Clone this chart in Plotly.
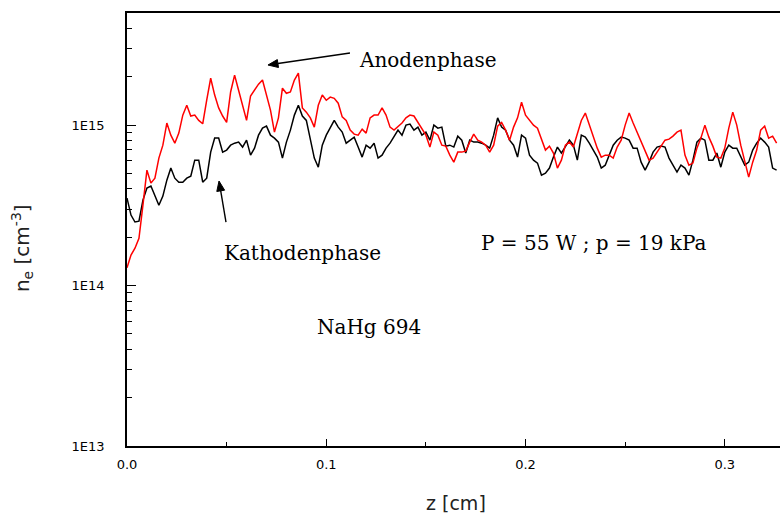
import plotly.graph_objects as go

# electron density in units of 1E14 cm^-3, sampled every 0.002 cm
z_step = 0.002

anode = [1.29, 1.55, 1.71, 1.97, 3.17, 5.24, 4.35, 4.67, 6.23, 7.5,
         10.3, 8.66, 7.72, 8.92, 11.55, 13.3, 11.4, 11.55, 10.7, 10.2,
         14.3, 19.6, 15.4, 12.8, 11.4, 10.4, 16.1, 20.5, 16.5, 13.3,
         10.7, 15.2, 16.5, 18.0, 19.1, 15.4, 12.4, 9.05, 11.1, 17.0,
         15.8, 16.1, 19.1, 21.1, 12.8, 12.05, 11.1, 9.72, 13.3, 15.4,
         14.3, 14.95, 14.7, 13.7, 11.25, 10.7, 9.31, 8.79, 8.66, 9.44,
         8.92, 11.1, 11.55, 11.55, 12.8, 11.55, 9.72, 9.31, 9.86, 10.3,
         11.1, 11.55, 11.4, 10.4, 9.31, 8.66, 7.30, 9.05, 8.66, 7.5,
         7.4, 6.5, 5.88, 6.79, 6.79, 6.89, 7.84, 8.79, 8.06, 7.84,
         7.5, 6.79, 7.5, 9.86, 10.4, 9.31, 8.06, 9.72, 11.1, 13.9,
         11.55, 10.7, 10.0, 9.58, 8.06, 6.99, 7.4, 6.7, 5.4, 6.05,
         7.5, 7.84, 7.3, 8.92, 10.7, 11.9, 10.0, 8.66, 7.19, 6.32,
         6.5, 6.5, 6.23, 7.3, 8.06, 10.0, 11.9, 10.3, 9.05, 7.84,
         6.99, 6.05, 6.23, 6.79, 7.5, 8.06, 8.18, 8.54, 9.05, 9.31,
         6.5, 5.63, 5.8, 7.19, 8.30, 10.0, 8.42, 7.4, 6.32, 6.23,
         7.19, 9.58, 12.05, 10.0, 7.5, 6.05, 4.74, 5.88, 6.99, 9.31,
         9.86, 8.30, 8.54, 7.72]

cathode = [3.51, 2.75, 2.49, 2.52, 3.41, 4.05, 4.17, 3.66, 3.17, 3.61,
           4.54, 5.40, 4.67, 4.41, 4.41, 4.67, 4.81, 6.05, 6.05, 4.41,
           4.67, 6.79, 8.30, 8.30, 6.79, 6.99, 7.5, 7.72, 7.84, 7.3,
           8.06, 6.5, 7.19, 8.66, 9.58, 9.86, 8.66, 8.30, 7.84, 6.23,
           7.84, 9.31, 11.55, 13.3, 11.4, 10.7, 8.06, 6.23, 5.47, 7.5,
           8.66, 9.58, 10.7, 9.72, 9.05, 7.72, 8.06, 8.42, 7.3, 6.32,
           7.5, 7.19, 7.72, 6.23, 6.5, 7.19, 7.72, 8.54, 9.31, 8.66,
           10.0, 10.15, 9.31, 9.72, 8.66, 9.05, 8.06, 10.0, 9.58, 9.72,
           7.4, 7.5, 7.3, 8.54, 8.06, 6.7, 8.06, 7.84, 7.84, 7.72,
           7.5, 7.19, 8.66, 11.1, 9.72, 9.31, 8.06, 7.5, 6.32, 8.66,
           8.30, 6.5, 6.05, 5.8, 4.88, 5.02, 5.40, 6.32, 7.3, 6.7,
           7.3, 8.06, 7.5, 6.05, 8.66, 8.42, 7.72, 6.99, 6.32, 5.40,
           5.63, 6.5, 7.5, 8.06, 8.42, 8.30, 8.06, 7.19, 7.19, 5.88,
           5.24, 5.88, 6.79, 7.3, 7.4, 7.3, 6.23, 5.63, 5.10, 5.63,
           5.40, 4.88, 6.05, 7.84, 8.30, 8.06, 6.05, 6.05, 6.7, 5.47,
           6.79, 7.5, 7.19, 7.19, 6.32, 5.63, 5.88, 6.99, 7.72, 8.30,
           7.84, 7.3, 5.40, 5.24]

unit = 1e14
x_tickvals = [0.0, 0.1, 0.2, 0.3]
x_ticktext = ["0.0", "0.1", "0.2", "0.3"]
x_minor = [0.05, 0.15, 0.25]
y_tickvals = [1e13, 1e14, 1e15]
y_ticktext = ["1E13", "1E14", "1E15"]
y_minor = [m * d for d in (1e13, 1e14, 1e15) for m in range(2, 10)]

z_anode = [i * z_step for i in range(len(anode))]
z_cathode = [i * z_step for i in range(len(cathode))]

fig = go.Figure()
fig.add_trace(go.Scatter(x=z_cathode, y=[v * unit for v in cathode], mode="lines",
                         line=dict(color="#000000", width=1.5), name="Kathodenphase"))
fig.add_trace(go.Scatter(x=z_anode, y=[v * unit for v in anode], mode="lines",
                         line=dict(color="#ff0000", width=1.5), name="Anodenphase"))

sans = "DejaVu Sans, Verdana, sans-serif"
tickfont = dict(family=sans, size=13, color="#000")
serif = dict(family="DejaVu Serif, serif", size=20, color="#000")

fig.update_layout(
    width=780, height=516,
    margin=dict(l=127, r=0, t=13, b=70),
    paper_bgcolor="white", plot_bgcolor="white",
    showlegend=False,
    xaxis=dict(range=[0, 0.3277], tickmode="array", tickvals=x_tickvals, ticktext=x_ticktext,
               ticks="inside", ticklen=7, tickwidth=1, tickcolor="#000",
               minor=dict(tickmode="array", tickvals=x_minor, ticks="inside", ticklen=4, tickcolor="#000"),
               showline=True, linecolor="#000", linewidth=1.6, mirror=True,
               showgrid=False, zeroline=False, tickfont=tickfont, ticklabelstandoff=6,
               automargin=False),
    yaxis=dict(type="log", range=[13, 15.699], tickmode="array", tickvals=y_tickvals, ticktext=y_ticktext,
               ticks="inside", ticklen=9, tickwidth=1, tickcolor="#000",
               minor=dict(tickmode="array", tickvals=y_minor, ticks="inside", ticklen=5, tickcolor="#000"),
               showline=True, linecolor="#000", linewidth=1.6,
               showgrid=False, zeroline=False, tickfont=tickfont, ticklabelstandoff=18,
               automargin=False),
)

# axis titles
fig.add_annotation(xref="paper", yref="paper", x=0.5038, y=-0.1316, text="z [cm]", showarrow=False,
                   xanchor="center", yanchor="middle", font=dict(family=sans, size=19, color="#222"))
fig.add_annotation(xref="paper", yref="paper", x=-0.1608, y=0.457, text="n<sub>e</sub> [cm<sup>-3</sup>]",
                   showarrow=False, textangle=-90, xanchor="center", yanchor="middle",
                   font=dict(family=sans, size=20, color="#222"))

annotations = [
    dict(text="Anodenphase", x=0.1154, y=15.406),
    dict(text="Kathodenphase", x=0.0477, y=14.204),
    dict(text="P = 55 W ; p = 19 kPa", x=0.1766, y=14.266),
    dict(text="NaHg 694", x=0.0943, y=13.743),
]
for a in annotations:
    fig.add_annotation(xref="x", yref="y", showarrow=False, font=serif,
                       xanchor="left", yanchor="middle", **a)

# arrows (paper coordinates): shaft + filled head
arrows = [
    dict(tail=(0.3415, 0.9076), base=(0.2311, 0.8834), head=[(0.2159, 0.8799), (0.2302, 0.8924), (0.2320, 0.8741)]),
    dict(tail=(0.1516, 0.5173), base=(0.1435, 0.5891), head=[(0.1409, 0.6120), (0.1495, 0.5908), (0.1375, 0.5878)]),
]
for ar in arrows:
    fig.add_shape(type="line", xref="paper", yref="paper",
                  x0=ar["tail"][0], y0=ar["tail"][1], x1=ar["base"][0], y1=ar["base"][1],
                  line=dict(color="#000", width=1.4))
    p = ar["head"]
    fig.add_shape(type="path", xref="paper", yref="paper",
                  path=f"M {p[0][0]},{p[0][1]} L {p[1][0]},{p[1][1]} L {p[2][0]},{p[2][1]} Z",
                  fillcolor="#000", line=dict(color="#000", width=1))

# remove the default page margin so the figure fills the window exactly
fig.write_html("out.html", config={"displayModeBar": False},
               post_script="document.body.style.margin='0';document.body.style.overflow='hidden';")
